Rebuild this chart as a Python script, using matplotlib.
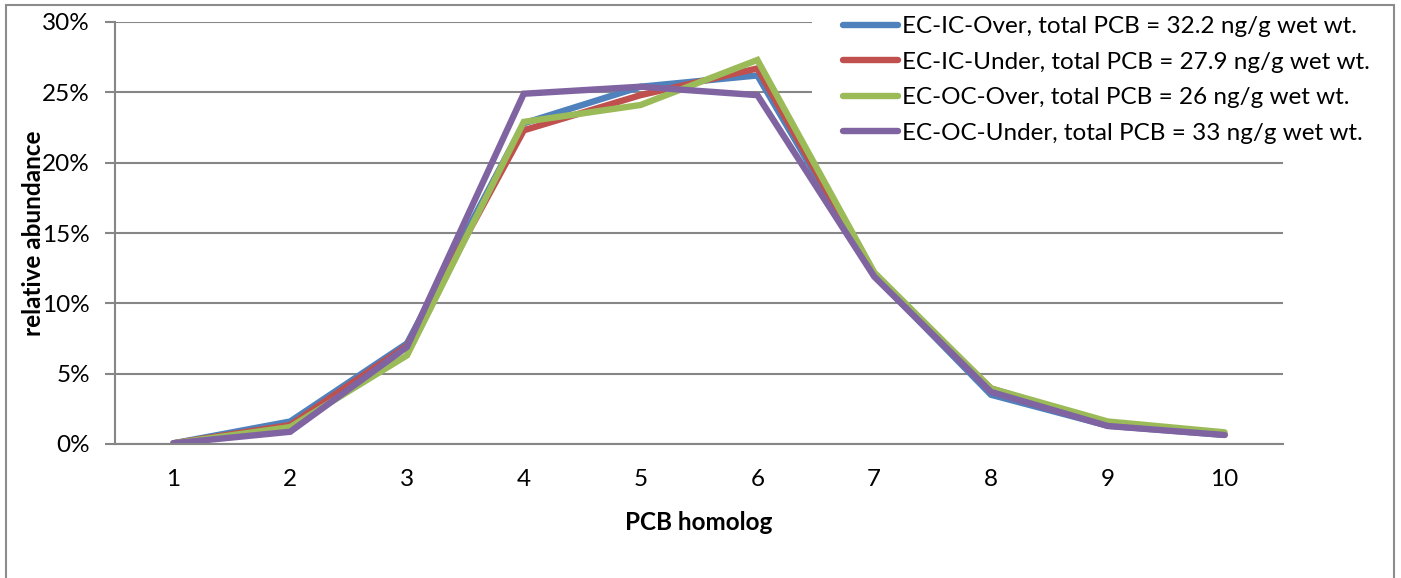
import matplotlib
matplotlib.use("Agg")
import matplotlib.pyplot as plt
from matplotlib.patches import Rectangle
from matplotlib.ticker import FuncFormatter, MultipleLocator

plt.rcParams['font.family'] = ['Lato', 'DejaVu Sans']

homologs = [1, 2, 3, 4, 5, 6, 7, 8, 9, 10]
series_names = [
    "EC-IC-Over, total PCB = 32.2 ng/g wet wt.",
    "EC-IC-Under, total PCB = 27.9 ng/g wet wt.",
    "EC-OC-Over, total PCB = 26 ng/g wet wt.",
    "EC-OC-Under, total PCB = 33 ng/g wet wt.",
]
ec_ic_over = [0.05, 1.6, 7.15, 22.8, 25.4, 26.2, 12.0, 3.5, 1.3, 0.65]
ec_ic_under = [0.05, 1.35, 7.0, 22.3, 24.8, 26.7, 12.0, 3.95, 1.4, 0.7]
ec_oc_over = [0.05, 1.2, 6.3, 22.9, 24.1, 27.3, 12.2, 3.95, 1.6, 0.83]
ec_oc_under = [0.05, 0.87, 6.9, 24.9, 25.4, 24.8, 11.9, 3.7, 1.28, 0.64]
series_values = [ec_ic_over, ec_ic_under, ec_oc_over, ec_oc_under]
series_colors = ["#4F81BD", "#C0504D", "#9BBB59", "#8064A2"]

W, H = 1401, 578
FS = 17.5
fig = plt.figure(figsize=(W / 100, H / 100), dpi=100)

# outer chart frame (bottom edge runs past the canvas)
fig.patches.append(Rectangle((6 / W, -0.05), (1394 - 6) / W, 0.05 + (H - 5) / H,
                             transform=fig.transFigure, fill=False,
                             edgecolor="#8C8C8C", linewidth=1.5))

ax_left, ax_right, ax_top, ax_bottom = 115, 1283, 22, 444
ax = fig.add_axes([ax_left / W, (H - ax_bottom) / H,
                   (ax_right - ax_left) / W, (ax_bottom - ax_top) / H])

x = list(range(len(homologs)))
for name, vals, col in zip(series_names, series_values, series_colors):
    ax.plot(x, vals, color=col, linewidth=4.6, label=name, zorder=2,
            solid_joinstyle="miter", solid_capstyle="round")

ax.set_xlim(-0.5, len(homologs) - 0.5)
ax.set_ylim(0, 30)
ax.yaxis.set_major_locator(MultipleLocator(5))
ax.yaxis.set_major_formatter(FuncFormatter(lambda v, p: f"{v:.0f}%"))
ax.set_xticks(x)
ax.set_xticklabels([str(h) for h in homologs])

ax.grid(axis="y", color="#868686", linewidth=1.5)
ax.set_axisbelow(True)
for s in ("top", "right"):
    ax.spines[s].set_visible(False)
for s in ("left", "bottom"):
    ax.spines[s].set_color("#868686")
    ax.spines[s].set_linewidth(1.5)

ax.tick_params(axis="y", length=7, width=1.5, color="#868686", pad=11,
               labelsize=FS)
ax.tick_params(axis="x", length=0, pad=18, labelsize=FS)

ax.set_xlabel("PCB homolog", fontsize=FS, fontweight="bold", labelpad=15)
ax.set_ylabel("relative abundance", fontsize=FS, fontweight="bold", labelpad=-2)

# white legend area hides the gridlines behind the legend entries
leg_box_left, leg_box_bottom = 812, 150
ax.add_patch(Rectangle(((leg_box_left - ax_left) / (ax_right - ax_left),
                        (ax_bottom - leg_box_bottom) / (ax_bottom - ax_top)),
                       1.0, 1.0, transform=ax.transAxes, facecolor="white",
                       edgecolor="none", zorder=1, clip_on=False))

fs_px = FS * 100 / 72
bp = 0.4
leg = ax.legend(loc="upper left",
                bbox_to_anchor=((843 - bp * fs_px) / W, (H - (16 - bp * fs_px)) / H),
                bbox_transform=fig.transFigure, frameon=False, fontsize=FS,
                handlelength=2.26, handletextpad=0.17, labelspacing=0.6,
                borderpad=bp, borderaxespad=0)
leg.set_zorder(5)

fig.savefig("out.png", dpi=100)
